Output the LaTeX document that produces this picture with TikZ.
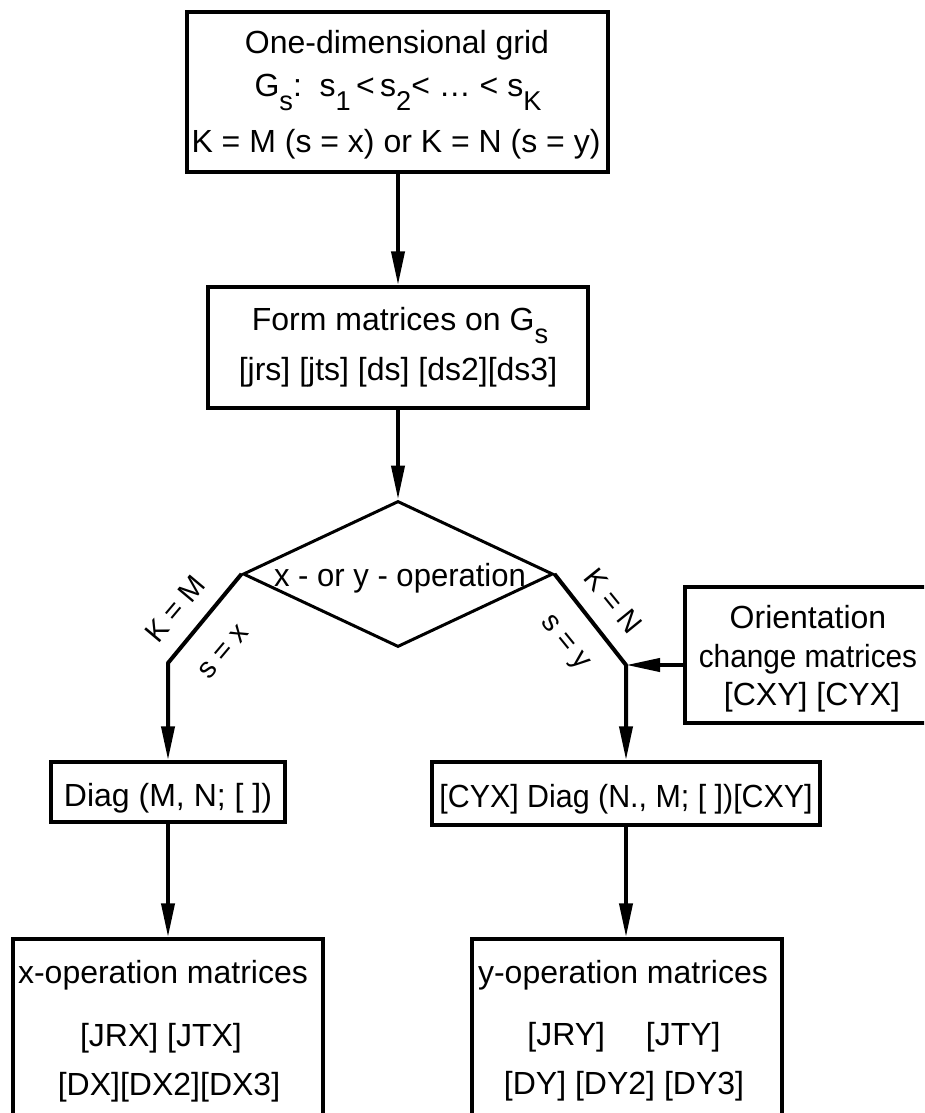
\documentclass[tikz,border=0pt]{standalone}
\usepackage{fontspec}
\setmainfont{Liberation Sans}
\usetikzlibrary{arrows.meta,shapes.geometric}
\newcommand\lo[1]{\raisebox{-0.42em}{\scalebox{0.85}{#1}}}
\tikzset{
  every node/.style={font=\fontsize{32}{38}\selectfont, inner sep=0pt},
  boxnode/.style={draw, line width=3.5pt, rectangle},
  txt/.style={anchor=base},
  lbl/.style={font=\fontsize{29}{34}\selectfont},
  arr/.style={line width=4pt, line join=round, -{Triangle[length=34pt,width=13pt]}},
}
\begin{document}
\begin{tikzpicture}[x=1pt,y=-1pt]
\useasboundingbox (0,0) rectangle (924,1113);
\clip (0,0) rectangle (924,1113);

% boxes
\node[boxnode, minimum width=421pt, minimum height=160pt] (grid) at (397.5,92) {};
\node[boxnode, minimum width=380pt, minimum height=121pt] (form) at (398,347.5) {};
\node[diamond, draw, line width=3pt, minimum width=310pt, minimum height=146pt] (dia) at (398,574) {};
\node[boxnode, minimum width=270pt, minimum height=136pt] (orient) at (820,655) {};
\node[boxnode, minimum width=234pt, minimum height=60pt] (diagL) at (168,792) {};
\node[boxnode, minimum width=388pt, minimum height=63pt] (diagR) at (626,793.5) {};
\node[boxnode, minimum width=310pt, minimum height=260pt] (xop) at (168,1069) {};
\node[boxnode, minimum width=310pt, minimum height=260pt] (yop) at (627,1069) {};

% texts
\node[txt] (g1) at (397,54) {One-dimensional grid};
\node[txt] (g2) at (398,97) {G\lo{s}:\ \ s\lo{1}\,<\,s\lo{2}<\ \dots\ <\ s\lo{K}};
\node[txt] (g3) at (396,152) {K = M (s = x) or K = N (s = y)};
\node[txt] (f1) at (400,330) {Form matrices on G\lo{s}};
\node[txt] (f2) at (398,380) {[jrs] [jts] [ds] [ds2][ds3]};
\node[txt] (d1) at (400,586) {\scalebox{0.97}[1]{x - or y - operation}};
\node[txt] (o1) at (808,628) {Orientation};
\node[txt] (o2) at (808,667) {\scalebox{0.93}[1]{change matrices}};
\node[txt] (o3) at (812,705) {[CXY] [CYX]};
\node[txt] (dl) at (168,806) {Diag (M, N; [ ])};
\node[txt] (dr) at (626,807) {\scalebox{0.95}[1]{[CYX] Diag (N., M; [ ])[CXY]}};
\node[txt] (x1) at (163,983) {x-operation matrices};
\node[txt] (x2) at (161,1046) {[JRX] [JTX]};
\node[txt] (x3) at (169,1095) {[DX][DX2][DX3]};
\node[txt] (y1) at (623,983) {y-operation matrices};
\node[txt] (y2) at (624,1045) {[JRY]\quad\ [JTY]};
\node[txt] (y3) at (624,1094) {[DY] [DY2] [DY3]};

% branch labels
\node[lbl, rotate=50] (lk) at (175,609) {K = M};
\node[lbl, rotate=50] (ls) at (224,652) {s = x};
\node[lbl, rotate=-51] (rk) at (613,601) {K = N};
\node[lbl, rotate=-51] (rs) at (564,644) {s = y};

% corners
\coordinate (cl) at (168,663);
\coordinate (cr) at (626,665);

% connectors
\draw[arr] (grid.south -| form.north) -- (form.north);
\draw[arr] (form.south) -- (dia.north);
\draw[arr] (dia.west) -- (cl) -- (diagL.north);
\draw[arr] (dia.east) -- (cr) -- (diagR.north);
\draw[arr] (orient.west |- cr) -- (cr);
\draw[arr] (diagL.south) -- (xop.north);
\draw[arr] (diagR.south) -- (yop.north -| diagR.south);
\end{tikzpicture}
\end{document}
